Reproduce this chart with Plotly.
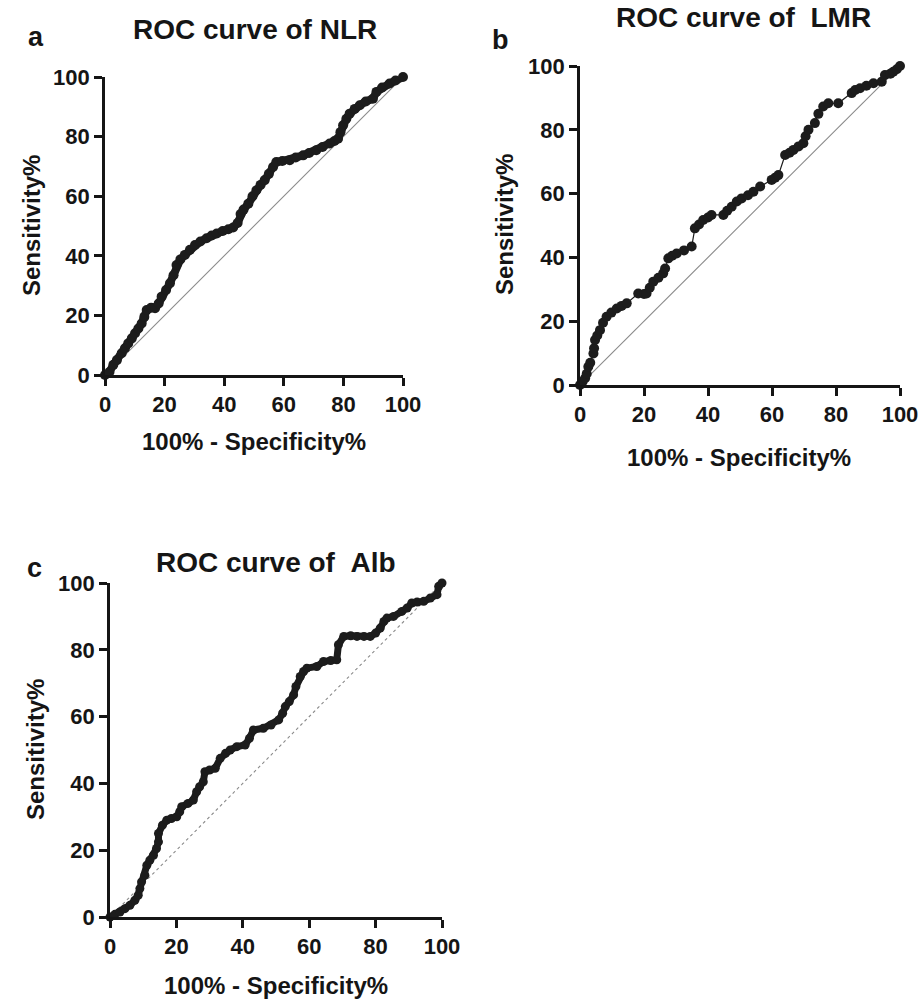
import plotly.graph_objects as go

# ---------------- data ----------------
ticks = [0, 20, 40, 60, 80, 100]
tick_text = ["0", "20", "40", "60", "80", "100"]

nlr_x = [0, 1.5, 2.8, 4, 5.6, 6.7, 7.8, 9, 10.1, 11.2, 12.3, 13.2, 14, 15.5, 16.8, 18, 19,
         20.5, 21.8, 23, 24, 25.3, 26.8, 28.5, 30.2, 32, 34.1, 35.8, 37.5, 39.5, 41.4, 43,
         44.5, 45.5, 46.5, 48.1, 49.5, 50.8, 52.2, 53.6, 55, 56.4, 57.5, 59.5, 62, 64, 66.5,
         68.5, 70.9, 73, 75.4, 77, 78.2, 79, 79.9, 81, 82.1, 83.8, 85.5, 87.5, 89.9, 91.1,
         93, 95.5, 97.5, 100]
nlr_y = [0, 1, 3.4, 5, 7.3, 9, 10.6, 12.3, 14, 15.6, 17.3, 19.5, 21.8, 22.6, 22.4, 24, 26.3,
         28.5, 30.8, 33.5, 36.9, 38.8, 40.3, 42, 43.6, 44.8, 45.9, 46.8, 47.5, 48.3, 48.9, 49.5,
         51, 54, 55.5, 57.5, 60, 62, 63.8, 65.4, 67.5, 69.8, 71.5, 71.8, 72.1, 73, 73.7,
         74.5, 75.4, 76.5, 77.7, 78.5, 79.3, 81.5, 83.8, 86, 87.7, 89.3, 90.5, 91.8, 92.7, 95,
         96.5, 97.8, 98.8, 100]

lmr_x = [0, 0.8, 1.6, 2.1, 2.6, 3.2, 4.2, 4.4, 4.7, 5.4, 6.25, 7.2, 8.3, 9.8, 11.5, 13, 14.6,
         18.2, 20, 20.8, 21.8, 22.9, 24.5, 26, 26.6, 27.6, 28.8, 30.2, 32.5, 34.9, 35.9, 37.2,
         38.5, 40, 41.1, 44.8, 46, 47.4, 49, 50.5, 52.5, 54.2, 56.3, 59.9, 61, 62, 64.1, 65.5,
         66.7, 68.3, 69.8, 70.5, 71.4, 73.4, 74.5, 76, 77.6, 80.7, 84.9, 86, 87.5, 89.5, 91.7,
         94.3, 95.3, 97, 97.9, 99, 100]
lmr_y = [0, 1, 2.1, 3.5, 5.7, 7, 9.9, 11.5, 14.1, 15.5, 17.2, 19.5, 21.4, 22.7, 24, 24.8, 25.6,
         28.7, 28.5, 28.7, 30.5, 32.4, 33.6, 35, 36.5, 39.7, 40.5, 41.2, 42.2, 43.4, 49.1, 50.3,
         51.7, 52.5, 53.3, 53.3, 54.6, 55.9, 57.5, 58.5, 59.5, 60.6, 62.2, 64.3, 65, 65.8, 72.1, 72.8,
         73.7, 74.8, 75.8, 78, 80, 82.1, 85, 87.3, 88.3, 88.3, 91.5, 92.5, 93, 93.8, 94.6,
         95.1, 97.2, 97.6, 98.2, 99, 100]

alb_x = [0, 1.5, 3, 4.5, 6, 7.5, 8.5, 9, 9.5, 10.5, 11.1, 12, 13.1, 14, 14.6, 14.6, 15.8, 17.1,
         18.5, 20.1, 21, 21.6, 23.5, 25.1, 26.1, 27, 28.1, 28.6, 30, 31.7, 33.2, 34.8, 36.2, 38.2,
         40.7, 42, 43.2, 46.2, 48.5, 50.8, 52, 52.8, 54, 55.3, 56, 57.3, 58.3, 59.3, 62.3, 64.3,
         66.5, 68.3, 68.8, 70.4, 72.5, 74.4, 76.5, 78.4, 80, 81.4, 82.5, 83.4, 85.4, 87.9, 89.5,
         90.9, 92.5, 94.5, 96.5, 98.5, 99, 100]
alb_y = [0, 0.8, 1.5, 2.5, 3.5, 5, 6.5, 8.5, 10.5, 12.5, 15.5, 17, 18.5, 20.5, 22.5, 25, 27.5, 29,
         29.5, 30, 31.5, 33, 34, 35, 37.5, 39, 40.5, 43.5, 44, 44.5, 47.5, 49, 50, 51,
         51.5, 53.5, 56, 56.5, 57.5, 59, 61, 63, 64.5, 66.5, 69, 72, 73.5, 74.5, 75, 76.5,
         76.8, 77, 81.5, 84, 84.2, 84, 84, 84, 85, 86.5, 88.5, 89.5, 90, 91.5, 92.5,
         94, 94.3, 94.5, 95.5, 96.5, 99, 100]

chance = [0, 100]

# ---------------- layout helpers ----------------
W, H = 921, 1005


def px(x):
    return x / W


def py(y):
    return 1 - y / H


FONT = "Liberation Sans, Arial, sans-serif"
INK = "#151515"
CURVE = "#1c1c1c"

# plot areas in pixels: (left, right, top, bottom)
panels = {
    "a": (105, 403, 77, 375),
    "b": (580, 900, 66, 385),
    "c": (110, 442, 583, 917),
}

fig = go.Figure()

series = [
    ("", nlr_x, nlr_y, 10, 8, "solid"),
    ("2", lmr_x, lmr_y, 10, 1.2, "solid"),
    ("3", alb_x, alb_y, 9, 7, "dot"),
]

for suffix, xs, ys, msize, lw, diag_dash in series:
    fig.add_trace(go.Scatter(
        x=chance, y=chance, mode="lines",
        line=dict(color="#8a8a8a", width=1.1, dash=diag_dash),
        xaxis="x" + suffix, yaxis="y" + suffix, hoverinfo="skip",
    ))
    fig.add_trace(go.Scatter(
        x=xs, y=ys, mode="lines+markers",
        line=dict(color=CURVE, width=lw),
        marker=dict(color=CURVE, size=msize),
        xaxis="x" + suffix, yaxis="y" + suffix, cliponaxis=False,
    ))

axis_common = dict(
    range=[0, 100], tickvals=ticks, ticktext=tick_text, automargin=False,
    showgrid=False, zeroline=False, showline=True,
    linecolor=INK, linewidth=2.6, ticks="outside", ticklen=8,
    tickwidth=2.6, tickcolor=INK,
    tickfont=dict(family=FONT, size=22, color=INK, weight="bold"),
)

layout_axes = {}
for (key, (l, r, t, b)), suffix in zip(panels.items(), ["", "2", "3"]):
    layout_axes["xaxis" + suffix] = dict(
        axis_common, domain=[px(l), px(r)], anchor="y" + suffix)
    layout_axes["yaxis" + suffix] = dict(
        axis_common, domain=[py(b), py(t)], anchor="x" + suffix)

annotations = []


def note(text, x, y, size, angle=0):
    annotations.append(dict(
        text="<b>" + text + "</b>", x=px(x), y=py(y), xref="paper", yref="paper",
        showarrow=False, xanchor="center", yanchor="middle", textangle=angle,
        font=dict(family=FONT, size=size, color=INK),
    ))


# panel letters
note("a", 36, 37, 27)
note("b", 500, 40, 27)
note("c", 34, 568, 27)
# titles
note("ROC curve of NLR", 255, 29, 28)
note("ROC curve of\u00a0\u00a0LMR", 743, 18, 28)
note("ROC curve of\u00a0\u00a0Alb", 276, 562, 28)
# x-axis titles
note("100% - Specificity%", 254, 442, 24)
note("100% - Specificity%", 739, 458, 24)
note("100% - Specificity%", 276, 985, 24)
# y-axis titles
note("Sensitivity%", 32, 226, 24, -90)
note("Sensitivity%", 505, 225, 24, -90)
note("Sensitivity%", 35, 750, 24, -90)

fig.update_layout(
    width=W, height=H, margin=dict(l=0, r=0, t=0, b=0),
    paper_bgcolor="white", plot_bgcolor="white", showlegend=False,
    annotations=annotations, **layout_axes,
)

fig.write_html(
    "out.html",
    config={"displayModeBar": False},
    post_script="document.body.style.margin='0';document.body.style.overflow='hidden';",
)
